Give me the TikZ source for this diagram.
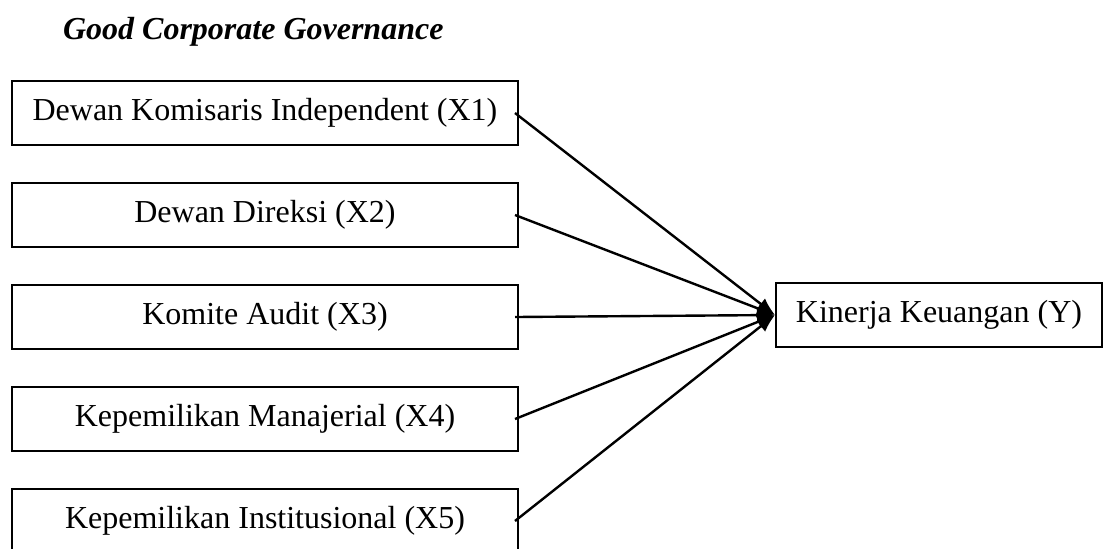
\documentclass[tikz,border=0pt]{standalone}
\usepackage{fontspec}
\setmainfont{Liberation Serif}
\usetikzlibrary{arrows.meta}

\begin{document}
\begin{tikzpicture}[x=0.5pt,y=-0.5pt,
  var/.style={draw,line width=1pt,minimum width=253pt,minimum height=32pt,
    inner sep=0pt,font=\fontsize{16}{19}\selectfont},
  link/.style={line width=1.2pt,-{Latex[length=9pt,width=7pt]}}]
\useasboundingbox(0,0)rectangle(1103,548);
\node[anchor=base west,font=\fontsize{16}{19}\selectfont\bfseries\itshape](gcg)at(56,39){Good Corporate Governance};
\node[var](x1)at(265,113){Dewan Komisaris Independent (X1)};
\node[var](x2)at(265,215){Dewan Direksi (X2)};
\node[var](x3)at(265,317){Komite Audit (X3)};
\node[var](x4)at(265,419){Kepemilikan Manajerial (X4)};
\node[var](x5)at(265,521){Kepemilikan Institusional (X5)};
\node[var,minimum width=163pt](y)at(939,315){Kinerja Keuangan (Y)};
\foreach \i in {1,...,5}
  \draw[link]([xshift=-2pt]x\i.east)--(y.west);
\end{tikzpicture}
\end{document}
